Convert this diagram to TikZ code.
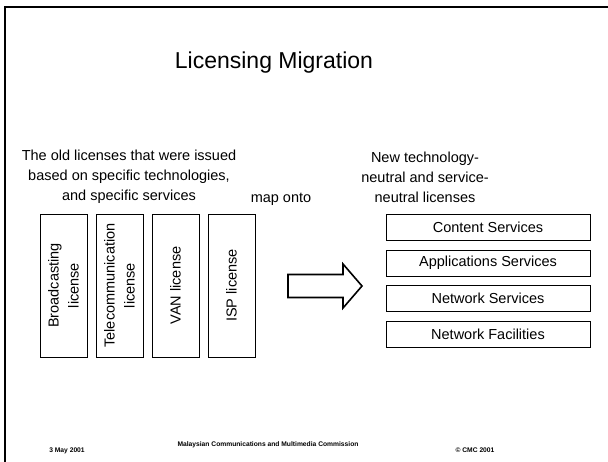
\documentclass[tikz,border=0pt]{standalone}
\usepackage{fontspec}
\setmainfont{Liberation Sans}
\usetikzlibrary{positioning}

\begin{document}
\begin{tikzpicture}
            [x=1pt, y=-1pt, font=\fontsize{14.5}{20}\selectfont,
            oldlic/.style={draw=black, line width=0.8pt, rotate=90,
            minimum width=143pt, minimum height=47pt, inner sep=1pt,
            align=center},
            newlic/.style={draw=black, line width=0.8pt,
            minimum width=204pt, minimum height=26pt, inner sep=0pt},
            foot/.style={font=\fontsize{6.7}{8}\selectfont\bfseries, anchor=base}]
            \useasboundingbox (0,0) rectangle (608,461);
            % slide frame
            \draw[line width=2.2pt] (5,470) -- (5,7) -- (615,7);
            \node[anchor=base, font=\fontsize{23}{27}\selectfont] (title) at (274,68) {Licensing Migration};
            % old licenses
            \node[align=center] (oldtxt) at (129,177) {The old licenses that were issued\\based on specific technologies,\\and specific services};
            \node[oldlic] (bcast) at (63.5,285.5) {Broadcasting\\license};
            \node[oldlic] (telco) at (119.5,285.5) {Telecommunication\\license};
            \node[oldlic] (van) at (175.5,285.5) {VAN license};
            \node[oldlic] (isp) at (231.5,285.5) {ISP license};
            % mapping
            \node[anchor=base] (map) at (281,202) {map onto};
            \draw[line width=1.6pt, line join=miter] (288,274.5) -- (343,274.5) -- (343,264) -- (362,286)
                -- (343,308) -- (343,297.5) -- (288,297.5) -- cycle;
            % new licenses
            \node[align=center] (newtxt) at (425,177) {New technology-\\neutral and service-\\neutral licenses};
            \node[newlic] (content) at (488,227.5) {Content Services};
            \node[newlic, below=8.8pt of content] (apps) {Applications Services};
            \node[newlic, below=8.8pt of apps] (netsvc) {Network Services};
            \node[newlic, below=8.8pt of netsvc] (netfac) {Network Facilities};
            % footer
            \node[foot] (date) at (67,452) {3 May 2001};
            \node[foot] (mcmc) at (268,446) {Malaysian Communications and Multimedia Commission};
            \node[foot] (copy) at (475,452) {\textcopyright{} CMC 2001};
\end{tikzpicture}
\end{document}
